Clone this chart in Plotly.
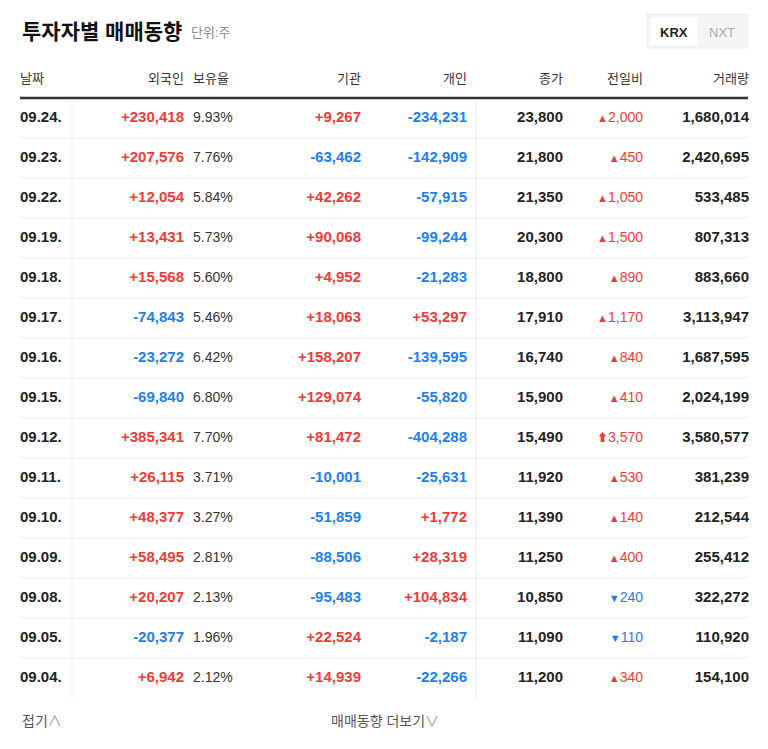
import plotly.graph_objects as go

dates = ["09.24.", "09.23.", "09.22.", "09.19.", "09.18.", "09.17.", "09.16.", "09.15.",
         "09.12.", "09.11.", "09.10.", "09.09.", "09.08.", "09.05.", "09.04."]
foreign = [230418, 207576, 12054, 13431, 15568, -74843, -23272, -69840,
           385341, 26115, 48377, 58495, 20207, -20377, 6942]
hold_ratio = [9.93, 7.76, 5.84, 5.73, 5.60, 5.46, 6.42, 6.80, 7.70, 3.71, 3.27, 2.81, 2.13, 1.96, 2.12]
institution = [9267, -63462, 42262, 90068, 4952, 18063, 158207, 129074,
               81472, -10001, -51859, -88506, -95483, 22524, 14939]
individual = [-234231, -142909, -57915, -99244, -21283, 53297, -139595, -55820,
              -404288, -25631, 1772, 28319, 104834, -2187, -22266]
close = [23800, 21800, 21350, 20300, 18800, 17910, 16740, 15900,
         15490, 11920, 11390, 11250, 10850, 11090, 11200]
change = [2000, 450, 1050, 1500, 890, 1170, 840, 410, 3570, 530, 140, 400, -240, -110, 340]
limit_up = [False] * 8 + [True] + [False] * 6
volume = [1680014, 2420695, 533485, 807313, 883660, 3113947, 1687595, 2024199,
          3580577, 381239, 212544, 255412, 322272, 110920, 154100]
headers = ["날짜", "외국인", "보유율", "기관", "개인", "종가", "전일비", "거래량"]

RED, BLUE, DARK = "#f23a3a", "#1e7fee", "#222222"
FONT = "Liberation Sans, Noto Sans CJK KR"
row_y = [118 + 40 * i for i in range(len(dates))]


def signed(v):
    return f"{v:+,}"


def sign_color(v):
    return RED if v > 0 else BLUE


def change_text(v, up):
    if v < 0:
        return f"<span style='font-size:11px'>▼</span>{abs(v):,}"
    arrow = "⬆" if up else "▲"
    return f"<span style='font-size:11px'>{arrow}</span>{v:,}"


fig = go.Figure()


def col(x, texts, colors, size=15, bold=True, pos="middle left"):
    fig.add_trace(go.Scatter(
        x=[x] * len(texts), y=row_y, mode="text", text=texts, textposition=pos,
        textfont=dict(family=FONT, size=size, color=colors,
                      weight="bold" if bold else "normal"),
        hoverinfo="skip", showlegend=False))


col(20, dates, DARK, pos="middle right")
col(184, [signed(v) for v in foreign], [sign_color(v) for v in foreign])
col(193, [f"{v:.2f}%" for v in hold_ratio], "#333333", size=14, bold=False, pos="middle right")
col(361, [signed(v) for v in institution], [sign_color(v) for v in institution])
col(467, [signed(v) for v in individual], [sign_color(v) for v in individual])
col(563, [f"{v:,}" for v in close], DARK)
col(643, [change_text(v, u) for v, u in zip(change, limit_up)],
    [RED if v > 0 else BLUE for v in change], size=14, bold=False)
col(749, [f"{v:,}" for v in volume], DARK)

# header row
hx = [20, 184, 193, 361, 467, 563, 643, 749]
hpos = ["middle right", "middle left", "middle right"] + ["middle left"] * 5
for h, x, p in zip(headers, hx, hpos):
    fig.add_trace(go.Scatter(x=[x], y=[80], mode="text", text=[h], textposition=p,
                             textfont=dict(family=FONT, size=13, color="#333333"),
                             hoverinfo="skip", showlegend=False))

shapes = [dict(type="line", x0=20, x1=748, y0=98, y1=98, line=dict(color="#333333", width=2.5))]
for y in row_y[:-1]:
    shapes.append(dict(type="line", x0=20, x1=748, y0=y + 20, y1=y + 20,
                       line=dict(color="#ebebeb", width=1)))
for x in (72, 476):
    shapes.append(dict(type="line", x0=x, x1=x, y0=99, y1=698, line=dict(color="#ebebeb", width=1)))
shapes.append(dict(type="rect", x0=647, x1=748, y0=14, y1=48, fillcolor="#f4f5f7",
                   line=dict(color="#eeeeee", width=1)))
shapes.append(dict(type="rect", x0=651, x1=697, y0=17, y1=45, fillcolor="white",
                   line=dict(color="white", width=0)))

ann = [
    dict(x=20, y=31, text="<b>투자자별 매매동향</b>", xanchor="left",
         font=dict(family=FONT, size=21, color="#111111")),
    dict(x=189, y=32, text="단위:주", xanchor="left", font=dict(family=FONT, size=13, color="#888888")),
    dict(x=674, y=32, text="<b>KRX</b>", font=dict(family=FONT, size=13, color="#222222")),
    dict(x=722, y=32, text="NXT", font=dict(family=FONT, size=13, color="#aaaaaa")),
    dict(x=20, y=721, text="접기<span style='color:#999'>∧</span>", xanchor="left",
         font=dict(family=FONT, size=14, color="#555555")),
    dict(x=385, y=721, text="매매동향 더보기<span style='color:#999'>∨</span>",
         font=dict(family=FONT, size=14, color="#555555")),
]
for a in ann:
    a.update(xref="x", yref="y", showarrow=False, yanchor="middle")

# the page body adds an 8px margin, so shift the axis ranges to compensate
fig.update_layout(
    width=768, height=749, margin=dict(l=0, r=0, t=0, b=0),
    paper_bgcolor="white", plot_bgcolor="white",
    xaxis=dict(range=[8, 776], visible=False, fixedrange=True),
    yaxis=dict(range=[757, 8], visible=False, fixedrange=True),
    shapes=shapes, annotations=ann,
)
fig.write_html("out.html")
